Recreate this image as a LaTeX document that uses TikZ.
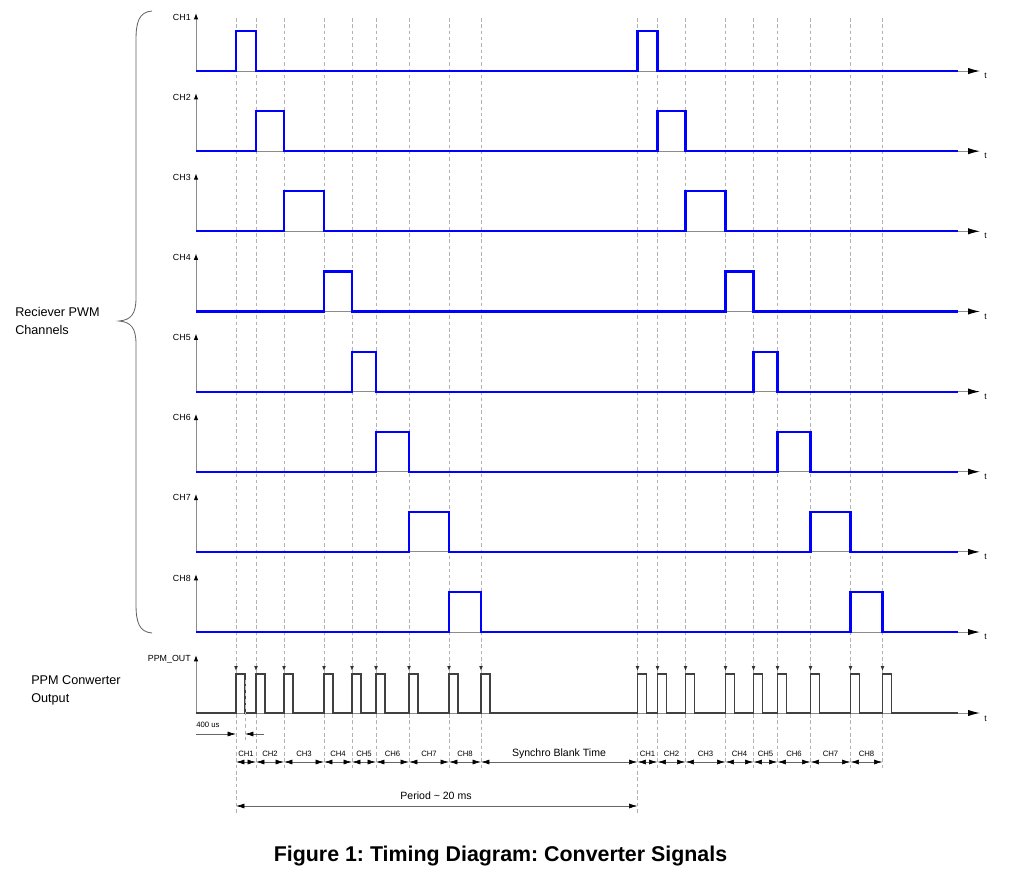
\documentclass[tikz,border=0pt]{standalone}
\usepackage{fontspec}
\setmainfont{Liberation Sans}
\usetikzlibrary{arrows.meta}
\frenchspacing

\tikzset{
  axis/.style={draw=black!45, line width=0.7pt, -{Latex[length=8.5pt,width=4.5pt,black]}},
  yaxis/.style={draw=black!45, line width=0.7pt, -{Latex[length=4.5pt,width=3.2pt,black]}},
  grid/.style={draw=black!30, line width=0.5pt, dash pattern=on 2.5pt off 2pt},
  pwm/.style={draw=blue, line width=1.5pt, line join=miter},
  ppm/.style={draw=black!75, line width=1.4pt, line join=miter},
  dim/.style={draw=black!60, line width=0.45pt, {Latex[length=6pt,width=3.5pt,black]}-{Latex[length=6pt,width=3.5pt,black]}},
  dimr/.style={draw=black!60, line width=0.45pt, -{Latex[length=6pt,width=3.5pt,black]}},
  chlabel/.style={font=\fontsize{6.3}{7}\selectfont, anchor=east, inner sep=0pt},
  tlabel/.style={font=\fontsize{6}{7}\selectfont, anchor=west, inner sep=0pt},
  seglabel/.style={font=\fontsize{5.5}{6.5}\selectfont, inner sep=0pt},
}

\begin{document}
\begin{tikzpicture}[x=0.025cm,y=-0.025cm]
  \useasboundingbox (0,0) rectangle (1015,881);

  % dashed time marks
  \foreach \e in {256,284,324,352,376,409,449,481,657.5,685.5,725.5,753.5,777.5,810.5,850.5,882.5}
    \draw[grid] (\e,18) -- (\e,770);
  \foreach \e in {236,637.5}
    \draw[grid] (\e,18) -- (\e,813);

  % receiver PWM channels
  \foreach \a/\b [count=\i] in {236/256,256/284,284/324,324/352,352/376,376/409,409/449,449/481} {
    \pgfmathsetmacro{\y}{71+80.15*(\i-1)}
    \draw[axis] (196,\y) -- (980,\y);
    \draw[yaxis] (196,\y) -- (196,\y-58);
    \node[chlabel] (ch\i) at (191,\y-54) {CH\i};
    \node[tlabel] (t\i) at (984,\y+5) {t};
    \draw[pwm] (196,\y) -- (\a,\y) -- (\a,\y-40) -- (\b,\y-40) -- (\b,\y)
      -- (\a+401.5,\y) -- (\a+401.5,\y-40) -- (\b+401.5,\y-40) -- (\b+401.5,\y) -- (958,\y);
  }

  % PPM output
  \draw[axis] (196,713) -- (980,713);
  \draw[yaxis] (196,713) -- (196,655);
  \node[chlabel] (ppmout) at (191,659) {PPM\_OUT};
  \node[tlabel] (tppm) at (984,719) {t};
  \draw[ppm] (196,713)
    \foreach \e in {236,256,284,324,352,376,409,449,481,637.5,657.5,685.5,725.5,753.5,777.5,810.5,850.5,882.5}
      { -- (\e,713) -- (\e,674) -- (\e+9,674) -- (\e+9,713) }
    -- (958,713);
  \foreach \e in {236,256,284,324,352,376,409,449,481,637.5,657.5,685.5,725.5,753.5,777.5,810.5,850.5,882.5}
    \fill[black!80] (\e-1.8,666) -- (\e+1.8,666) -- (\e,670.5) -- cycle;
  \draw[grid] (245,680) -- (245,742);

  % 400 us mark
  \node[seglabel, anchor=west] (us) at (196,725) {400 us};
  \draw[dimr] (196,734) -- (236,734);
  \draw[dimr] (264,734) -- (245,734);

  % channel slots
  \foreach \a/\b/\txt in {236/256/CH1,256/284/CH2,284/324/CH3,324/352/CH4,352/376/CH5,376/409/CH6,409/449/CH7,449/481/CH8,
      637.5/657.5/CH1,657.5/685.5/CH2,685.5/725.5/CH3,725.5/753.5/CH4,753.5/777.5/CH5,777.5/810.5/CH6,810.5/850.5/CH7,850.5/882.5/CH8} {
    \draw[dim] (\a,762) -- (\b,762);
    \node[seglabel] (s\a) at ({(\a+\b)/2},754) {\txt};
  }
  \draw[dim] (481,762) -- (637.5,762);
  \node[font=\fontsize{7.5}{9}\selectfont, inner sep=0pt] (sync) at (559,754) {Synchro Blank Time};

  % period
  \draw[dim] (236,806) -- (637.5,806);
  \node[font=\fontsize{7.5}{9}\selectfont, inner sep=0pt] (period) at (436,796) {Period \textasciitilde{} 20 ms};

  % brace and group labels
  \draw[black!60, line width=0.6pt] (152,11) .. controls (139,12) and (136,22) .. (136,40) -- (136,298)
    .. controls (136,314) and (131,320) .. (119,321) .. controls (131,322) and (136,328) .. (136,344)
    -- (136,604) .. controls (136,622) and (139,632) .. (152,633);
  \node[anchor=west, align=left, inner sep=0pt, font=\fontsize{9}{12.8}\selectfont] (pwmtxt) at (15,321) {Reciever PWM\\Channels};
  \node[anchor=west, align=left, inner sep=0pt, font=\fontsize{9}{12.8}\selectfont] (ppmtxt) at (31,690) {PPM Conwerter\\Output};

  % caption
  \node[font=\fontsize{15.2}{18}\selectfont\bfseries, inner sep=0pt] (caption) at (500.5,856) {Figure 1: Timing Diagram: Converter Signals};
\end{tikzpicture}
\end{document}
